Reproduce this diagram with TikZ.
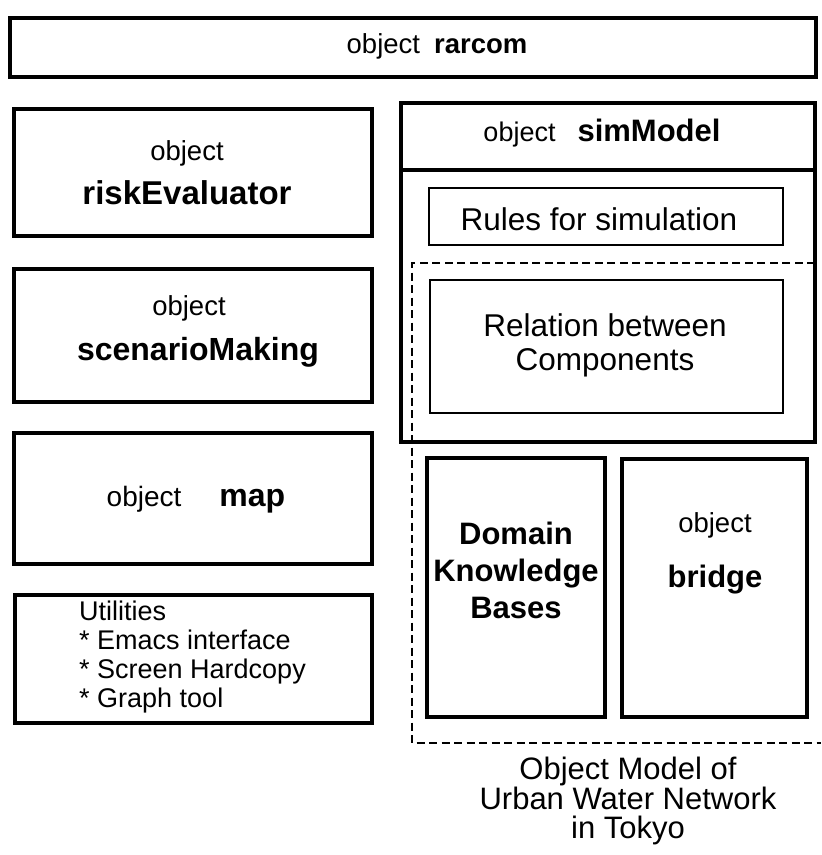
\documentclass[tikz,border=0pt]{standalone}
\usepackage{fontspec}
\setmainfont{Liberation Sans}
\begin{document}
\begin{tikzpicture}[x=1pt,y=-1pt,
  frame/.style={draw, line width=4pt, rectangle, inner sep=0pt},
  thinframe/.style={draw, line width=2pt, rectangle, inner sep=0pt},
  region/.style={draw, line width=1.6pt, dash pattern=on 8pt off 4.5pt},
  small/.style={font=\fontsize{27.5}{32}\selectfont, inner sep=0pt},
  big/.style={font=\bfseries\fontsize{32}{37}\selectfont, inner sep=0pt},
  label/.style={font=\fontsize{31.5}{34}\selectfont, inner sep=0pt, align=center},
]
\useasboundingbox (0,0) rectangle (822,855);

% top-level object
\node[frame, minimum width=806pt, minimum height=59pt] (rarcom) at (413,47.5) {};
\node[inner sep=0pt] (rarcomtext) at (437,46)
  {\fontsize{27.5}{32}\selectfont object\hspace{14pt}{\bfseries rarcom}};

% left column of objects
\node[frame, minimum width=358pt, minimum height=127pt] (risk) at (193,172.5) {};
\node[small] (riskobj) at (187,153) {object};
\node[big, font=\bfseries\fontsize{33}{37}\selectfont] (riskname) at (187,193) {riskEvaluator};

\node[frame, minimum width=358pt, minimum height=133pt] (scen) at (193,335.5) {};
\node[small] (scenobj) at (189,308) {object};
\node[big] (scenname) at (198,352) {scenarioMaking};

\node[frame, minimum width=358pt, minimum height=131pt] (map) at (193,498.5) {};
\node[inner sep=0pt] (maptext) at (196,500)
  {\fontsize{28}{32}\selectfont object\hspace{38pt}{\bfseries\fontsize{32}{37}\selectfont map}};

\node[frame, minimum width=357pt, minimum height=128pt] (util) at (193.5,659) {};
\node[inner sep=0pt, anchor=west, align=left, font=\fontsize{27}{29}\selectfont] (utiltext) at (79,657)
  {Utilities\\* Emacs interface\\* Screen Hardcopy\\* Graph tool};

% simulation model
\node[frame, minimum width=414pt, minimum height=339pt] (sim) at (608,272.5) {};
\draw[line width=4pt] (sim.west |- 0,170) coordinate (divl) -- (sim.east |- 0,170) coordinate (divr);
\node[inner sep=0pt] (simhead) at (602,133)
  {\fontsize{27}{32}\selectfont object\hspace{22pt}{\bfseries\fontsize{31}{37}\selectfont simModel}};

\node[thinframe, minimum width=354pt, minimum height=57pt] (rules) at (606,216.5) {};
\node[label] (rulestext) at (599,219) {Rules for simulation};

\node[thinframe, minimum width=353pt, minimum height=133pt] (rel) at (606.5,346.5) {};
\node[label] (reltext) at (605,345) {Relation between\\Components};

% dashed region of the water network model
\coordinate (dtr) at (815,263);
\coordinate (dtl) at (412,263);
\coordinate (dbl) at (412,743);
\coordinate (dbr) at (821,743);
\draw[region] (dtr) -- (dtl) -- (dbl) -- (dbr);

\node[frame, minimum width=178pt, minimum height=259pt] (dkb) at (516,587.5) {};
\node[inner sep=0pt, align=center, font=\bfseries\fontsize{31}{37}\selectfont] (dkbtext) at (516,570)
  {Domain\\Knowledge\\Bases};

\node[frame, minimum width=185pt, minimum height=258pt] (bridge) at (714.5,588) {};
\node[small] (bridgeobj) at (715,525) {object};
\node[big, font=\bfseries\fontsize{31}{37}\selectfont] (bridgename) at (715,580) {bridge};

\node[inner sep=0pt, align=center, font=\fontsize{31}{29.5}\selectfont] (caption) at (628,801)
  {Object Model of\\Urban Water Network\\in Tokyo};
\end{tikzpicture}
\end{document}
